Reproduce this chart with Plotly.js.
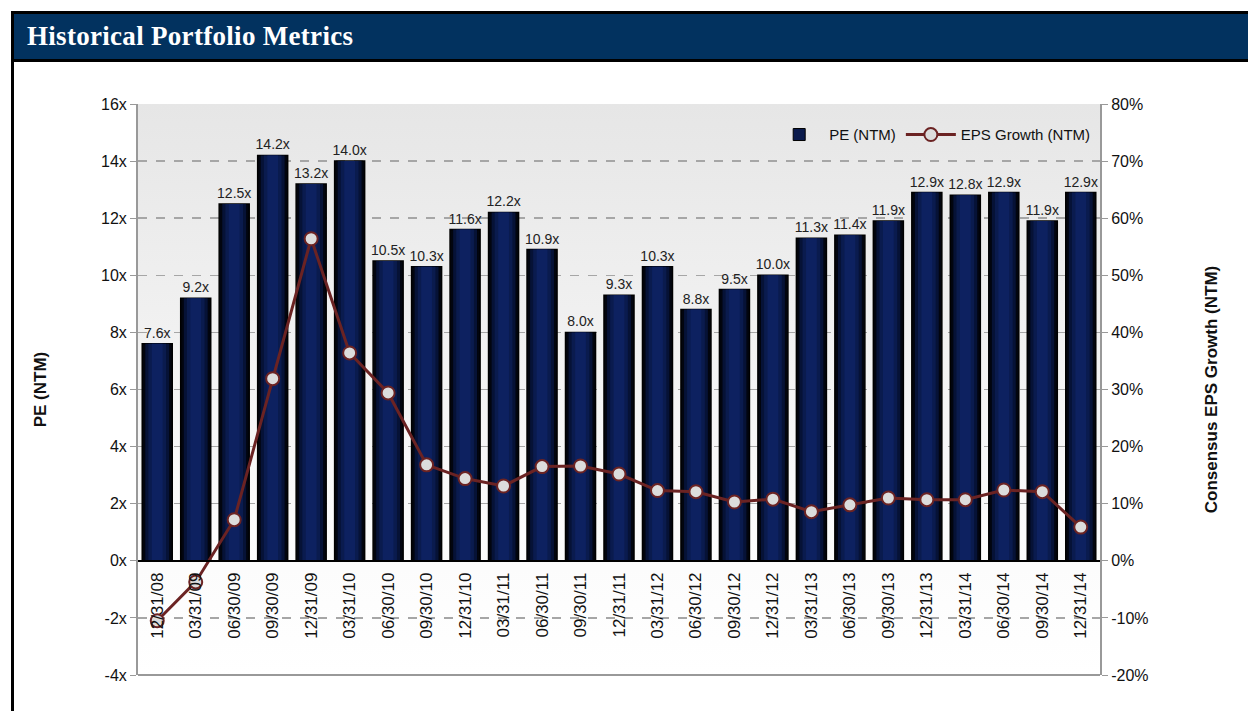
<!DOCTYPE html>
<html>
<head>
<meta charset="utf-8">
<script src="https://cdn.plot.ly/plotly-3.0.1.min.js"></script>
<style>
  html, body { margin:0; padding:0; width:1248px; height:711px; overflow:hidden; background:#fff; }
  #frame { position:absolute; left:11px; top:11px; width:1250px; height:720px; border-left:3px solid #000; border-top:3px solid #000; box-sizing:border-box; }
  #header { position:absolute; left:0; top:0; width:100%; height:45px; background:#02325f; border-bottom:3px solid #000; box-sizing:content-box; }
  #header span { position:absolute; left:13px; top:7px; color:#fff; font-family:"Liberation Serif", serif; font-weight:bold; font-size:27px; letter-spacing:0.3px; }
  #chart { position:absolute; left:0; top:0; width:1248px; height:711px; }
</style>
</head>
<body>
<div id="frame"><div id="header"><span>Historical Portfolio Metrics</span></div></div>
<div id="chart"></div>
<script>
const categories = ["12/31/08","03/31/09","06/30/09","09/30/09","12/31/09","03/31/10","06/30/10","09/30/10","12/31/10","03/31/11","06/30/11","09/30/11","12/31/11","03/31/12","06/30/12","09/30/12","12/31/12","03/31/13","06/30/13","09/30/13","12/31/13","03/31/14","06/30/14","09/30/14","12/31/14"];
const peNTM = [7.6,9.2,12.5,14.2,13.2,14.0,10.5,10.3,11.6,12.2,10.9,8.0,9.3,10.3,8.8,9.5,10.0,11.3,11.4,11.9,12.9,12.8,12.9,11.9,12.9];
const epsGrowth = [-10.5,-3.7,7.2,31.9,56.4,36.4,29.4,16.8,14.4,13.1,16.5,16.6,15.2,12.3,12.1,10.3,10.8,8.6,9.8,11.0,10.7,10.7,12.4,12.1,5.9];
const peTicks = [-4,-2,0,2,4,6,8,10,12,14,16];
const peTickText = ["-4x","-2x","0x","2x","4x","6x","8x","10x","12x","14x","16x"];
const epsTicks = [-20,-10,0,10,20,30,40,50,60,70,80];
const epsTickText = ["-20%","-10%","0%","10%","20%","30%","40%","50%","60%","70%","80%"];

const gradSvg = '<svg xmlns="http://www.w3.org/2000/svg" width="10" height="100" preserveAspectRatio="none"><defs><linearGradient id="g" x1="0" y1="0" x2="0" y2="1"><stop offset="0" stop-color="#e6e6e6"/><stop offset="0.75" stop-color="#fbfbfb"/><stop offset="1" stop-color="#ffffff"/></linearGradient></defs><rect width="10" height="100" fill="url(#g)"/></svg>';

const lbl = {family:'Liberation Sans, Arial', size:14, color:'#222'};
// shading layers to imitate the cylinder-like gradient of the bars
const shade = [
  {w:0.78, c:'#02050f', line:1.5},
  {w:0.62, c:'#061236', line:0},
  {w:0.46, c:'#0a1b4e', line:0},
  {w:0.28, c:'#0d2160', line:0}
];
const traces = shade.map((s, i) => ({
  type:'bar', x:categories, y:peNTM, width:s.w,
  name:'PE (NTM)', showlegend:false,
  marker:{color:s.c, line:{color:'#000', width:s.line}},
  hoverinfo:'skip'
}));
traces[0].text = peNTM.map(v => v.toFixed(1) + 'x');
traces[0].textposition = 'outside';
traces[0].constraintext = 'none';
traces[0].cliponaxis = false;
traces[0].textfont = lbl;
// legend entry for bars
traces.push({type:'bar', x:[categories[0]], y:[null], name:'PE (NTM)', marker:{color:'#0a1a4c', line:{color:'#000', width:1}}, showlegend:true, hoverinfo:'skip'});
traces.push({
  type:'scatter', mode:'lines+markers', x:categories, y:epsGrowth, yaxis:'y2', name:'EPS Growth (NTM)',
  line:{color:'#6b2323', width:3},
  marker:{symbol:'circle', size:13, color:'#dcdcdc', line:{color:'#6b2323', width:2}},
  cliponaxis:false
});

const axisFont = {family:'Liberation Sans, Arial', size:16, color:'#111'};
const layout = {
  width:1248, height:711,
  margin:{l:138, r:148, t:104, b:36},
  paper_bgcolor:'rgba(0,0,0,0)', plot_bgcolor:'rgba(0,0,0,0)',
  showlegend:true, barmode:'overlay',
  legend:{orientation:'h', x:0.995, xanchor:'right', y:0.975, yanchor:'top', itemwidth:50, bgcolor:'rgba(0,0,0,0)', font:{family:'Liberation Sans, Arial', size:15, color:'#111'}, traceorder:'normal'},
  xaxis:{
    type:'category', range:[-0.5, 24.5], anchor:'free', position:0.2, tickangle:-90,
    showline:true, linecolor:'#000', linewidth:2, ticks:'', showgrid:false,
    tickfont:{family:'Liberation Sans, Arial', size:17, color:'#111'}, ticklabelstandoff:4,
    zeroline:false
  },
  yaxis:{
    range:[-4,16], tickvals:peTicks, ticktext:peTickText, tickfont:axisFont,
    showline:true, linecolor:'#999', linewidth:2, ticks:'outside', ticklen:6, tickcolor:'#999',
    showgrid:true, gridcolor:'#a6a6a6', griddash:'dash', gridwidth:1.5, zeroline:false,
    title:{text:'PE (NTM)', font:{family:'Liberation Sans, Arial', size:17, color:'#111', weight:'bold'}, standoff:50}
  },
  yaxis2:{
    range:[-20,80], tickvals:epsTicks, ticktext:epsTickText, tickfont:axisFont, overlaying:'y', side:'right',
    showline:true, linecolor:'#999', linewidth:2, ticks:'outside', ticklen:6, tickcolor:'#999',
    showgrid:false, zeroline:false,
    title:{text:'Consensus EPS Growth (NTM)', font:{family:'Liberation Sans, Arial', size:17, color:'#111', weight:'bold'}, standoff:58}
  },
  shapes:[
    {type:'line', xref:'paper', yref:'paper', x0:0, x1:1, y0:0, y1:0, line:{color:'#999', width:2}}
  ],
  images:[
    {source:'data:image/svg+xml;base64,' + btoa(gradSvg), xref:'paper', yref:'paper', x:0, y:1, sizex:1, sizey:1, sizing:'stretch', layer:'below', xanchor:'left', yanchor:'top'}
  ]
};
Plotly.newPlot('chart', traces, layout, {displayModeBar:false, staticPlot:true});
</script>
</body>
</html>
